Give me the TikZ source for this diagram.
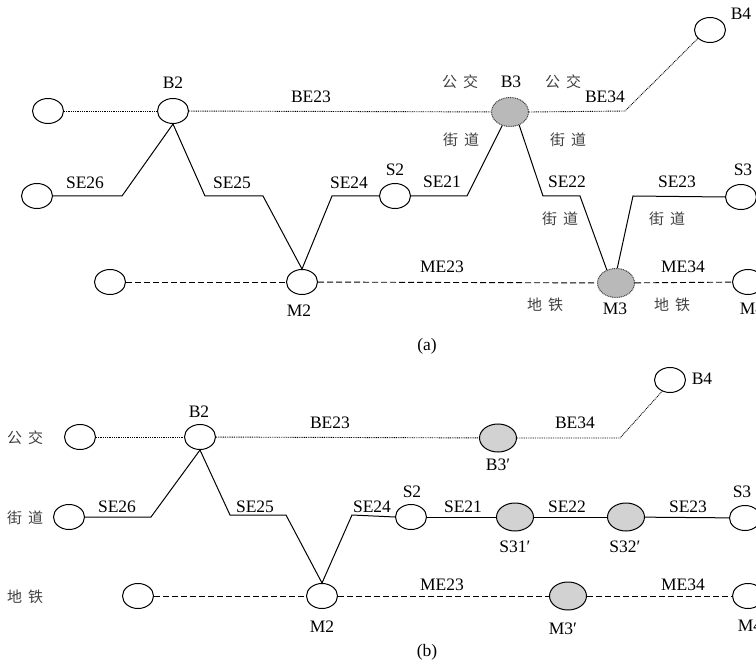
\documentclass[tikz,border=0pt]{standalone}
\usepackage{fontspec}
\setmainfont{Liberation Serif}
\newfontfamily\cjk{Noto Sans CJK SC}
\usetikzlibrary{shapes.geometric}
\tikzset{
  stn/.style={ellipse, draw, line width=1pt, minimum width=31pt, minimum height=25pt, inner sep=0pt, fill=white},
  huba/.style={stn, minimum width=37pt, minimum height=29pt, fill=gray!55, draw=black!75, dash pattern=on 1pt off 0.8pt},
  hubb/.style={stn, minimum width=37pt, minimum height=28pt, fill=gray!35},
  lbl/.style={inner sep=0pt, font=\fontsize{17.5}{17.5}\selectfont, text height=11.6pt, text depth=0pt},
  zh/.style={inner sep=0pt, font=\fontsize{15}{15}\selectfont\cjk, text=black!75},
  bus/.style={line width=0.9pt, dash pattern=on 0.9pt off 0.9pt},
  street/.style={line width=1pt},
  metro/.style={line width=0.9pt, dash pattern=on 6pt off 3pt},
}
\newcommand{\zhpair}[2]{#1\hspace{6pt}#2}
\begin{document}
\begin{tikzpicture}[x=1pt,y=-1pt]
\useasboundingbox (0,0) rectangle (756,666);
% ================= (a) =================
\node[stn] (aB1) at (48,111) {};
\node[stn] (aB2) at (173,111) {};
\node[huba] (aB3) at (510,112) {};
\node[stn] (aB4) at (710,30) {};
\node[stn] (aS6) at (37,196) {};
\node[stn] (aS2) at (395,196) {};
\node[stn] (aS3) at (741,197) {};
\node[stn] (aM1) at (110,282) {};
\node[stn] (aM2) at (302,282) {};
\node[huba] (aM3) at (616,283) {};
\node[stn] (aM4) at (748,282) {};

\draw[bus] (aB1) -- (aB2);
\draw[bus] (aB2) -- (aB3);
\draw[bus] (aB3.east) -- (625,111) -- (aB4.215);
\draw[street] (aS6.east) -- (122,196) -- (aB2.south);
\draw[street] (aB2.south) -- (205,196) -- (263,196) -- (aM2.north);
\draw[street] (aM2.north) -- (332,196) -- (aS2.west);
\draw[street] (aS2.east) -- (467,196) -- (aB3.240);
\draw[street] (aB3.305) -- (543,196) -- (580,196) -- (aM3.125);
\draw[street] (aM3.85) -- (633,196) -- (aS3.west);
\draw[metro] (aM1) -- (aM2);
\draw[metro] (aM2) -- (aM3);
\draw[metro] (aM3) -- (aM4);

\node[lbl] (laB2) at (173,83) {B2};
\node[lbl] (laBE23) at (311,97) {BE23};
\node[zh] (laBus1) at (460,82) {\zhpair{公}{交}};
\node[lbl] (laB3) at (511,82) {B3};
\node[zh] (laBus2) at (563,82) {\zhpair{公}{交}};
\node[lbl] (laBE34) at (605,97) {BE34};
\node[lbl] (laB4) at (741,14) {B4};
\node[zh] (laSt1) at (461,140) {\zhpair{街}{道}};
\node[zh] (laSt2) at (568,140) {\zhpair{街}{道}};
\node[lbl] (laSE26) at (85,183) {SE26};
\node[lbl] (laSE25) at (232,183) {SE25};
\node[lbl] (laSE24) at (349,183) {SE24};
\node[lbl] (laS2) at (395,170) {S2};
\node[lbl] (laSE21) at (442,182) {SE21};
\node[lbl] (laSE22) at (567,182) {SE22};
\node[lbl] (laSE23) at (677,182) {SE23};
\node[lbl] (laS3) at (743,170) {S3};
\node[zh] (laSt3) at (560,219) {\zhpair{街}{道}};
\node[zh] (laSt4) at (667,219) {\zhpair{街}{道}};
\node[lbl] (laME23) at (442,267) {ME23};
\node[lbl] (laME34) at (683,267) {ME34};
\node[lbl] (laM2) at (299,311) {M2};
\node[zh] (laMe1) at (545,305) {\zhpair{地}{铁}};
\node[lbl] (laM3) at (615,309) {M3};
\node[zh] (laMe2) at (672,305) {\zhpair{地}{铁}};
\node[lbl] (laM4) at (752,309) {M4};
\node[inner sep=0pt, font=\fontsize{17.5}{17.5}\selectfont] (capa) at (427,346) {(a)};

% ================= (b) =================
\node[stn] (bB1) at (80,437) {};
\node[stn] (bB2) at (200,437) {};
\node[hubb] (bB3) at (498,438) {};
\node[stn] (bB4) at (670,380) {};
\node[stn] (bS6) at (69,517) {};
\node[stn] (bS2) at (411,517) {};
\node[hubb] (bS31) at (515,517) {};
\node[hubb] (bS32) at (626,517) {};
\node[stn] (bS3) at (745,518) {};
\node[stn] (bM1) at (138,596) {};
\node[stn] (bM2) at (322,596) {};
\node[hubb] (bM3) at (568,596) {};
\node[stn] (bM4) at (748,596) {};

\draw[bus] (bB1) -- (bB2);
\draw[bus] (bB2) -- (bB3);
\draw[bus] (bB3.east) -- (620,438) -- (bB4.235);
\draw[street] (bS6.east) -- (151,517) -- (bB2.south);
\draw[street] (bB2.south) -- (230,515) -- (286,515) -- (bM2.north);
\draw[street] (bM2.north) -- (352,515) -- (bS2.west);
\draw[street] (bS2) -- (bS31);
\draw[street] (bS31) -- (bS32);
\draw[street] (bS32) -- (bS3);
\draw[metro] (bM1) -- (bM2);
\draw[metro] (bM2) -- (bM3);
\draw[metro] (bM3) -- (bM4);

\node[zh] (lbBus) at (25,438) {\zhpair{公}{交}};
\node[zh] (lbSt) at (25,518) {\zhpair{街}{道}};
\node[zh] (lbMe) at (25,597) {\zhpair{地}{铁}};
\node[lbl] (lbB2) at (199,412) {B2};
\node[lbl] (lbBE23) at (330,423) {BE23};
\node[lbl] (lbB3) at (498,465) {B3′};
\node[lbl] (lbBE34) at (575,423) {BE34};
\node[lbl] (lbB4) at (702,379) {B4};
\node[lbl] (lbSE26) at (117,507) {SE26};
\node[lbl] (lbSE25) at (255,507) {SE25};
\node[lbl] (lbSE24) at (372,507) {SE24};
\node[lbl] (lbS2) at (412,492) {S2};
\node[lbl] (lbSE21) at (463,507) {SE21};
\node[lbl] (lbS31) at (515,547) {S31′};
\node[lbl] (lbSE22) at (567,507) {SE22};
\node[lbl] (lbS32) at (625,547) {S32′};
\node[lbl] (lbSE23) at (688,507) {SE23};
\node[lbl] (lbS3) at (742,492) {S3};
\node[lbl] (lbME23) at (442,585) {ME23};
\node[lbl] (lbME34) at (683,585) {ME34};
\node[lbl] (lbM2) at (322,627) {M2};
\node[lbl] (lbM3) at (563,629) {M3′};
\node[lbl] (lbM4) at (750,626) {M4};
\node[inner sep=0pt, font=\fontsize{17.5}{17.5}\selectfont] (capb) at (427,652) {(b)};
\end{tikzpicture}
\end{document}
